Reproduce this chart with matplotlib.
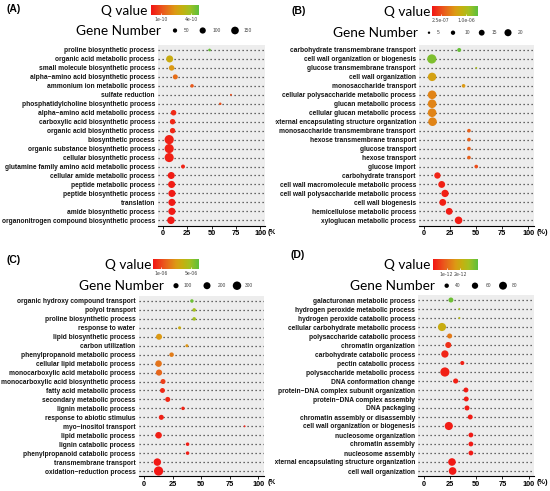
import numpy as np
import matplotlib.pyplot as plt
from matplotlib.colors import LinearSegmentedColormap, Normalize
from matplotlib.cm import ScalarMappable
from matplotlib.transforms import Bbox, TransformedBbox

W, H = 550, 491

# ---- data ----
terms_a = ["proline biosynthetic process", "organic acid metabolic process",
           "small molecule biosynthetic process", "alpha\u2212amino acid biosynthetic process",
           "ammonium ion metabolic process", "sulfate reduction",
           "phosphatidylcholine biosynthetic process", "alpha\u2212amino acid metabolic process",
           "carboxylic acid biosynthetic process", "organic acid biosynthetic process",
           "biosynthetic process", "organic substance biosynthetic process",
           "cellular biosynthetic process", "glutamine family amino acid metabolic process",
           "cellular amide metabolic process", "peptide metabolic process",
           "peptide biosynthetic process", "translation", "amide biosynthetic process",
           "organonitrogen compound biosynthetic process"]
pct_a = [48, 7, 9, 12.8, 30, 70, 59, 11, 10, 10, 6.5, 6.5, 6.5, 20.7, 8.6, 9, 9.3, 9.3, 9.3, 8.3]
genes_a = [22, 126, 80, 67, 35, 12, 19, 80, 78, 78, 212, 210, 208, 44, 126, 128, 130, 130, 132, 143]
q_a = [4.65e-10, 2.98e-10, 2.4e-10, 1.58e-10, 1.2e-10, 0.96e-10, 1.06e-10, 0.38e-10, 0.34e-10,
       0.34e-10, 0.24e-10, 0.24e-10, 0.24e-10, 0.29e-10, 0.14e-10, 0.14e-10, 0.1e-10, 0.1e-10,
       0.1e-10, 0.1e-10]

terms_b = ["carbohydrate transmembrane transport", "cell wall organization or biogenesis",
           "glucose transmembrane transport", "cell wall organization", "monosaccharide transport",
           "cellular polysaccharide metabolic process", "glucan metabolic process",
           "cellular glucan metabolic process", "external encapsulating structure organization",
           "monosaccharide transmembrane transport", "hexose transmembrane transport",
           "glucose transport", "hexose transport", "glucose import", "carbohydrate transport",
           "cell wall macromolecule metabolic process", "cell wall polysaccharide metabolic process",
           "cell wall biogenesis", "hemicellulose metabolic process", "xyloglucan metabolic process"]
pct_b = [33.6, 7.3, 50, 7.6, 37.8, 7.6, 7.6, 7.6, 8, 43, 43, 43, 43, 50, 12.7, 16.8, 20, 17.8, 24, 33]
genes_b = [9, 30, 4, 26, 8, 27, 27, 27, 27, 8, 8, 8, 8, 8, 17, 19, 21, 19, 19, 22]
q_b = [1.30e-6, 1.21e-6, 1.05e-6, 7.4e-7, 6.7e-7, 5.6e-7, 5.6e-7, 5.6e-7, 5.6e-7, 3.75e-7,
       3.75e-7, 3.75e-7, 3.75e-7, 2.7e-7, 8e-8, 6.7e-8, 5.4e-8, 5.4e-8, 4e-8, 4e-8]

terms_c = ["organic hydroxy compound transport", "polyol transport", "proline biosynthetic process",
           "response to water", "lipid biosynthetic process", "carbon utilization",
           "phenylpropanoid metabolic process", "cellular lipid metabolic process",
           "monocarboxylic acid metabolic process", "monocarboxylic acid biosynthetic process",
           "fatty acid metabolic process", "secondary metabolic process", "lignin metabolic process",
           "response to abiotic stimulus", "myo\u2212inositol transport", "lipid metabolic process",
           "lignin catabolic process", "phenylpropanoid catabolic process",
           "transmembrane transport", "oxidation\u2212reduction process"]
pct_c = [41.8, 43.8, 43.8, 31, 13, 37.4, 24, 12.6, 13, 16.5, 16, 20.6, 34, 15, 88, 12.6, 38, 38, 11.5, 12.6]
genes_c = [40, 42, 42, 28, 141, 28, 74, 170, 150, 94, 92, 96, 40, 96, 8, 172, 42, 42, 231, 360]
q_c = [5.7e-6, 4.8e-6, 4.8e-6, 3.7e-6, 3.0e-6, 2.9e-6, 2.3e-6, 2.1e-6, 1.8e-6, 9e-7, 4.8e-7,
       4.2e-7, 3.6e-7, 3e-7, 3e-7, 2.4e-7, 1.8e-7, 1.8e-7, 1.2e-7, 6e-8]

terms_d = ["galacturonan metabolic process", "hydrogen peroxide metabolic process",
           "hydrogen peroxide catabolic process", "cellular carbohydrate metabolic process",
           "polysaccharide catabolic process", "chromatin organization",
           "carbohydrate catabolic process", "pectin catabolic process",
           "polysaccharide metabolic process", "DNA conformation change",
           "protein\u2212DNA complex subunit organization", "protein\u2212DNA complex assembly",
           "DNA packaging", "chromatin assembly or disassembly", "cell wall organization or biogenesis",
           "nucleosome organization", "chromatin assembly", "nucleosome assembly",
           "external encapsulating structure organization", "cell wall organization"]
pct_d = [26, 34, 34, 17.5, 24.8, 23.5, 20.3, 36.8, 20.3, 30.5, 40.3, 40.6, 41.3, 44.4, 24, 45, 45, 45, 27, 27.6]
genes_d = [46, 20, 21, 83, 46, 57, 72, 37, 98, 47, 45, 45, 46, 45, 83, 44, 44, 44, 76, 77]
q_d = [3.14e-12, 2.64e-12, 2.38e-12, 2.05e-12, 1.25e-12, 3.3e-13, 2e-13, 1.65e-13, 1.3e-13, 1.3e-13,
       1e-13, 1e-13, 1e-13, 1e-13, 1e-13, 7e-14, 7e-14, 7e-14, 7e-14, 7e-14]

# colour bar ranges / ticks and size legend breaks
qrange_a, qticks_a, qlabs_a = (0, 4.8e-10), [1e-10, 4e-10], ["1e-10", "4e-10"]
qrange_b, qticks_b, qlabs_b = (0, 1.34e-6), [2.5e-7, 1e-6], ["2.5e-07", "1.0e-06"]
qrange_c, qticks_c, qlabs_c = (0, 6.0e-6), [1e-6, 5e-6], ["1e-06", "5e-06"]
qrange_d, qticks_d, qlabs_d = (0, 3.3e-12), [1e-12, 2e-12], ["1e-12", "2e-12"]
breaks_a = [50, 100, 150]
breaks_b = [5, 10, 15, 20]
breaks_c = [100, 200, 300]
breaks_d = [40, 60, 80]

cmap = LinearSegmentedColormap.from_list("qval", [
    (0.0, "#f21414"), (0.25, "#ea5a1c"), (0.5, "#dc9a14"),
    (0.65, "#c4b010"), (0.8, "#a4c020"), (1.0, "#5cbf3c")])

fig = plt.figure(figsize=(W / 100, H / 100), dpi=100)
ov = fig.add_axes([0, 0, 1, 1], zorder=10)
ov.set_xlim(0, W)
ov.set_ylim(H, 0)
ov.axis("off")

LBL = "Liberation Sans"
BIG = "Lato"


def box(l, t, r, b):
    return [l / W, 1 - b / H, (r - l) / W, (b - t) / H]


def clip_region(x0, x1):
    return TransformedBbox(Bbox([[x0 / W, 0], [x1 / W, 1]]), fig.transFigure)


def diam(n, lo, hi):
    # sqrt-scaled point diameter in pixels, ggplot-like
    return 1.9 + 7.3 * (np.sqrt(n) - np.sqrt(lo)) / (np.sqrt(hi) - np.sqrt(lo))


def panel(tag, terms, pct, genes, q, qrange, qticks, qlabs, breaks, lay, clip_x):
    lo, hi = min(genes), max(genes)
    norm = Normalize(*qrange)
    ax = fig.add_axes(box(*lay["ax"]))
    ax.set_facecolor("#ededed")
    rows = np.arange(len(terms), 0, -1)
    for y in rows:
        ax.axhline(y, color="#3a3a3a", lw=0.9, ls=(0, (1, 2.2)), zorder=1)
    s = (diam(np.array(genes), lo, hi) * 0.72) ** 2
    ax.scatter(pct, rows, s=s, c=q, cmap=cmap, norm=norm, edgecolors="none", zorder=3)
    ax.set_xlim(-5, 105)
    ax.set_ylim(0.4, len(terms) + 0.6)
    ax.set_xticks([0, 25, 50, 75, 100])
    ax.set_xticklabels(["0", "25", "50", "75", "100"], fontsize=5.3,
                       fontweight="bold", family=LBL)
    ax.set_yticks(rows)
    ax.set_yticklabels(terms, fontsize=4.75, fontweight="bold", family=LBL, color="#151515")
    ax.tick_params(axis="y", length=0, pad=2.2)
    ax.tick_params(axis="x", length=2, width=0.6, pad=1.2)
    for sp in ["top", "right", "left"]:
        ax.spines[sp].set_visible(False)
    ax.spines["bottom"].set_linewidth(0.8)
    # each panel was a separate image: keep its text inside its own column
    cb = clip_region(*clip_x)
    for t in ax.get_yticklabels():
        t.set_clip_box(cb)
        t.set_clip_on(True)

    # texts
    ov.text(*lay["tag"], tag, fontsize=7.5, fontweight="bold", family=LBL,
            ha="center", va="center")
    pt = ov.text(*lay["pct"], "(%)", fontsize=5.3, fontweight="bold", family=LBL,
                 ha="left", va="center")
    pt.set_clip_box(cb)
    pt.set_clip_on(True)
    ov.text(*lay["qv"], "Q value", fontsize=9.8, family=BIG, ha="center", va="center")
    ov.text(*lay["gn"], "Gene Number", fontsize=9.8, family=BIG, ha="center", va="center")

    # colour bar
    cax = fig.add_axes(box(*lay["cbar"]))
    cbar = fig.colorbar(ScalarMappable(norm=norm, cmap=cmap), cax=cax, orientation="horizontal")
    cbar.outline.set_visible(False)
    cbar.set_ticks(qticks)
    cbar.set_ticklabels(qlabs)
    cax.tick_params(length=1.5, width=0.5, color="white", direction="in",
                    labelsize=3.3, labelcolor="#444444", pad=1.5)

    # size legend
    gy = lay["gn"][1]
    for xd, xl, b in zip(lay["dots"], lay["labs"], breaks):
        ov.scatter([xd], [gy], s=(diam(b, lo, hi) * 0.72) ** 2, color="black", edgecolors="none")
        ov.text(xl, gy, str(b), fontsize=3.5, color="#444444", family=LBL,
                ha="center", va="center")


lay_a = dict(ax=(158, 44.6, 265, 225.7), tag=(14, 9), pct=(268, 232), qv=(124, 10.5),
             gn=(118, 30.5), cbar=(151, 5, 199, 14.5),
             dots=[175, 202.7, 235], labs=[187, 216.7, 248])
lay_b = dict(ax=(419, 44.6, 533.5, 225.7), tag=(298.5, 10.7), pct=(537, 232), qv=(407, 11.7),
             gn=(375, 32.7), cbar=(432, 6, 478, 16),
             dots=[429, 453, 481.7, 508], labs=[438, 467, 494, 521])
lay_c = dict(ax=(138.5, 295.6, 264, 476.4), tag=(13.5, 260), pct=(268, 483), qv=(128, 265),
             gn=(121.7, 285.7), cbar=(153, 259, 199, 269),
             dots=[176, 207, 237], labs=[188, 222, 249])
lay_d = dict(ax=(418.3, 294.6, 534, 476.4), tag=(298, 255), pct=(537, 483), qv=(407, 265),
             gn=(392, 285.7), cbar=(433, 259, 478, 270),
             dots=[446.7, 475, 503], labs=[458, 488, 515])

panel("(A)", terms_a, pct_a, genes_a, q_a, qrange_a, qticks_a, qlabs_a, breaks_a, lay_a, (0, 275))
panel("(B)", terms_b, pct_b, genes_b, q_b, qrange_b, qticks_b, qlabs_b, breaks_b, lay_b, (275, W))
panel("(C)", terms_c, pct_c, genes_c, q_c, qrange_c, qticks_c, qlabs_c, breaks_c, lay_c, (0, 275))
panel("(D)", terms_d, pct_d, genes_d, q_d, qrange_d, qticks_d, qlabs_d, breaks_d, lay_d, (275, W))

fig.savefig("out.png", dpi=100)
